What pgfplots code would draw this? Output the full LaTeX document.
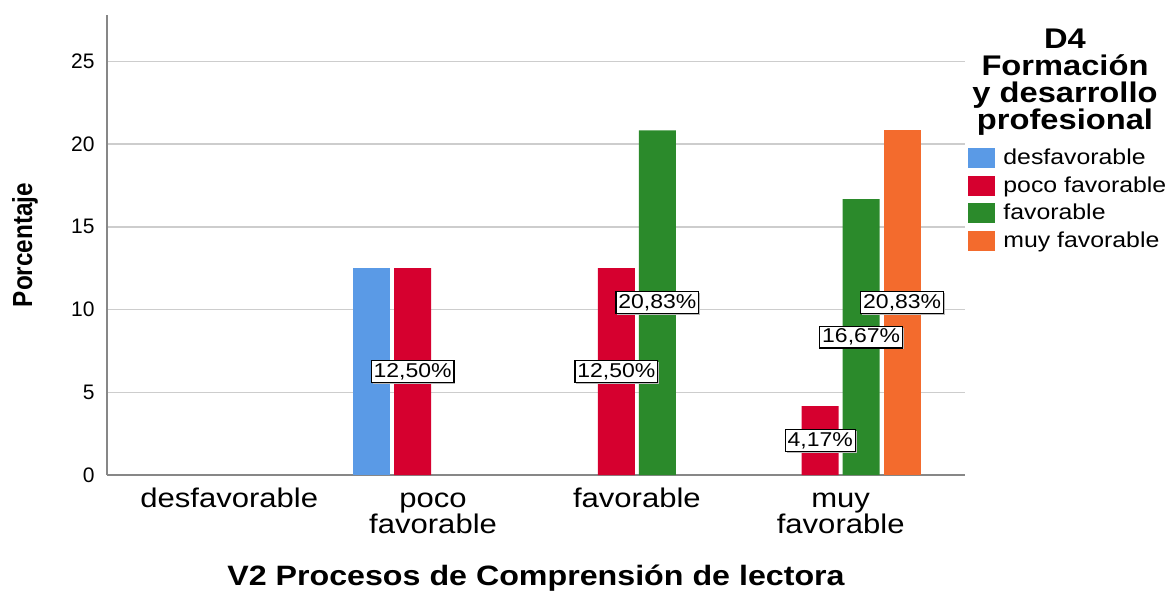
\documentclass[border=0pt]{standalone}
\usepackage{pgfplots}
\pgfplotsset{compat=1.18}
\usetikzlibrary{shadows}
\usepackage{fontspec}
\setmainfont{Liberation Sans}[FakeStretch=1.15]
\newfontfamily\plainsans{Liberation Sans}
\newfontfamily\narrowsans{Liberation Sans}[FakeStretch=0.88]
\newcommand\tl{\rule{0pt}{10pt}}

\definecolor{cblue}{RGB}{90,154,230}
\definecolor{cred}{RGB}{214,0,47}
\definecolor{cgreen}{RGB}{43,138,43}
\definecolor{corange}{RGB}{243,107,45}
\definecolor{gridgray}{RGB}{205,205,205}
\definecolor{axisgray}{RGB}{135,135,135}

\begin{document}
\begin{tikzpicture}
\useasboundingbox (-53.5pt,-57.5pt) rectangle (530.5pt,237.5pt);
\begin{axis}[
    scale only axis,
    width=429pt, height=230pt,
    ybar=2pt, bar width=18.5pt,
    xmin=-0.6, xmax=3.61,
    ymin=0, ymax=27.8,
    axis lines*=left,
    axis line style={axisgray, line width=0.9pt},
    ymajorgrids,
    grid style={gridgray, line width=0.7pt},
    major tick length=0pt,
    xtick={0,1,2,3},
    xticklabels={\tl desfavorable,{\tl poco\\favorable},\tl favorable,{\tl muy\\favorable}},
    xticklabel style={font=\fontsize{13.5}{13}\selectfont, align=center,
        anchor=north, inner sep=0pt, yshift=-6pt},
    ytick={0,5,10,15,20,25},
    yticklabel style={font=\plainsans\fontsize{10.5}{12}\selectfont,
        inner sep=0pt, xshift=-6pt},
    /pgf/number format/assume math mode=true,
    xlabel={V2 Procesos de Comprensión de lectora},
    xlabel style={font=\bfseries\fontsize{14}{16}\selectfont,
        at={(axis description cs:0.5,-0.225)}, anchor=center},
    ylabel={Porcentaje},
    ylabel style={font=\narrowsans\bfseries\fontsize{13.8}{15}\selectfont,
        at={(axis description cs:-0.0956,0.5)}, anchor=center},
    visualization depends on={rawy \as \rawy},
    nodes near coords style={font=\fontsize{10}{12}\selectfont,
        fill=white, draw=black, line width=0.6pt,
        drop shadow={shadow xshift=0.7pt, shadow yshift=-0.7pt, fill=gray!55, opacity=1},
        inner xsep=1.2pt, inner ysep=1.3pt, anchor=center,
        yshift={-4.1367pt*\rawy}},
    legend image code/.code={\fill[#1] (0pt,-4.5pt) rectangle (13.5pt,5.5pt);},
    legend style={at={(rel axis cs:1.0035,0.711)}, anchor=north west,
        draw=none, fill=none, inner sep=0pt,
        font=\fontsize{10.8}{12}\selectfont,
        row sep=3pt, column sep=4pt,
        nodes={inner sep=0pt, text height=8pt, text depth=2.5pt},
        cells={anchor=west}},
]
% desfavorable
\addplot[fill=cblue, draw=none] coordinates {(1,12.5)};
% poco favorable
\addplot[fill=cred, draw=none,
    nodes near coords={\pgfmathprintnumber[fixed,fixed zerofill,precision=2,use comma]{\pgfplotspointmeta}\%}]
    coordinates {(1,12.5) (2,12.5) (3,4.17)};
% favorable
\addplot[fill=cgreen, draw=none,
    nodes near coords={\pgfmathprintnumber[fixed,fixed zerofill,precision=2,use comma]{\pgfplotspointmeta}\%}]
    coordinates {(2,20.83) (3,16.67)};
% muy favorable
\addplot[fill=corange, draw=none,
    nodes near coords={\pgfmathprintnumber[fixed,fixed zerofill,precision=2,use comma]{\pgfplotspointmeta}\%}]
    coordinates {(3,20.83)};
\legend{desfavorable,poco favorable,favorable,muy favorable}
\end{axis}
\node[align=center, font=\bfseries\fontsize{14.2}{13.6}\selectfont]
    at (479pt,196.5pt) {D4\\Formación\\y desarrollo\\profesional};
\end{tikzpicture}
\end{document}
